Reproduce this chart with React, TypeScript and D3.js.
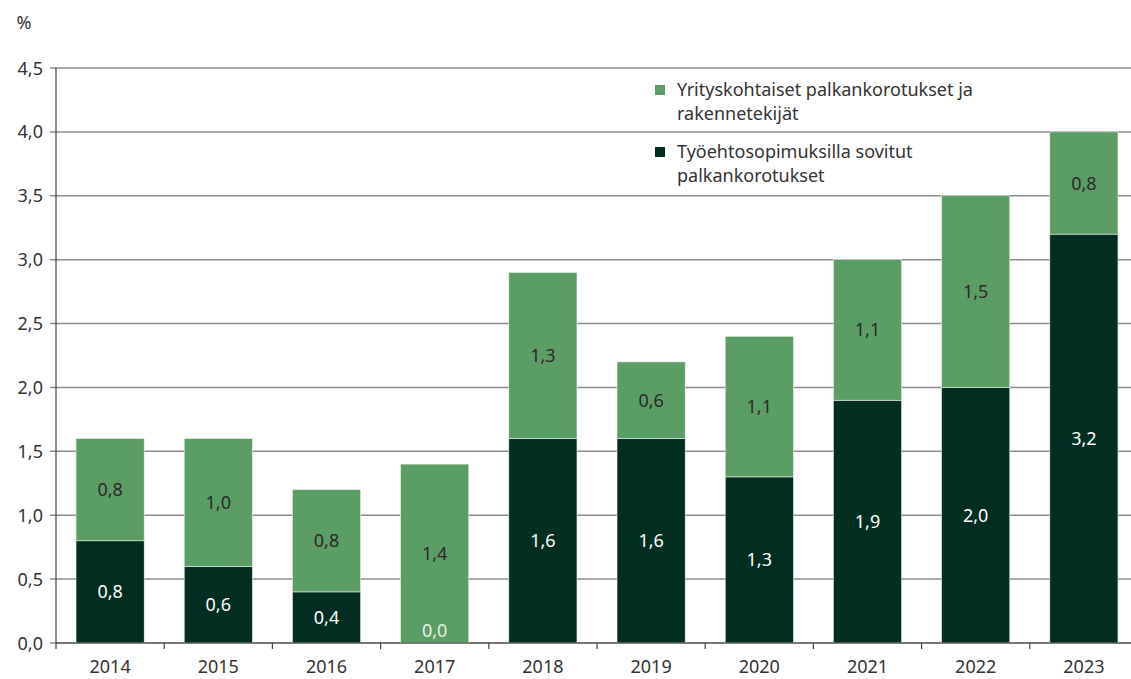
import React from "react";
import * as d3 from "d3";

const years = ["2014", "2015", "2016", "2017", "2018", "2019", "2020", "2021", "2022", "2023"];
const collective = [0.8, 0.6, 0.4, 0.0, 1.6, 1.6, 1.3, 1.9, 2.0, 3.2];
const company = [0.8, 1.0, 0.8, 1.4, 1.3, 0.6, 1.1, 1.1, 1.5, 0.8];
const yTicks = [0, 0.5, 1.0, 1.5, 2.0, 2.5, 3.0, 3.5, 4.0, 4.5];
const legendCompany = ["Yrityskohtaiset palkankorotukset ja", "rakennetekijät"];
const legendCollective = ["Työehtosopimuksilla sovitut", "palkankorotukset"];

const W = 1131;
const H = 679;
const left = 56;
const right = 1138;
const top = 68;
const bottom = 643;
const LIGHT = "#5a9e63";
const DARK = "#012e20";
const FONT = "'Noto Sans', 'Open Sans', sans-serif";
const FS = 18;
const fmt = (v: number) => v.toFixed(1).replace(".", ",");

export default function App() {
  const x = d3.scaleBand<string>().domain(years).range([left, right]).paddingInner(0.37).paddingOuter(0.185);
  const xb = d3.scaleBand<string>().domain(years).range([left, right]);
  const y = d3.scaleLinear().domain([0, 4.5]).range([bottom, top]);

  return (
    <svg width={W} height={H} style={{ position: "absolute", left: 0, top: 0, fontFamily: FONT }}>
      <rect width={W} height={H} fill="#fff" />
      <text x={24} y={29} fontSize={FS} fill="#333" textAnchor="middle">%</text>
      {yTicks.map((t) => (
        <g key={t}>
          <line x1={50} x2={W} y1={y(t)} y2={y(t)} stroke="#8c8c8c" strokeWidth={1.5} />
          <text x={43} y={y(t) + 6.5} fontSize={FS} fill="#333" textAnchor="end">{fmt(t)}</text>
        </g>
      ))}
      {years.map((yr, i) => {
        const bx = x(yr)!;
        const bw = x.bandwidth();
        const c0 = collective[i];
        const c1 = company[i];
        const y0 = c0 === 0 ? y(0) - 13 + 6.5 : (y(0) + y(c0)) / 2 + 6.5;
        return (
          <g key={yr}>
            <rect x={bx} y={y(c0)} width={bw} height={y(0) - y(c0)} fill={DARK} stroke="#e8f0e8" strokeWidth={0.6} />
            <rect x={bx} y={y(c0 + c1)} width={bw} height={y(c0) - y(c0 + c1)} fill={LIGHT} stroke="#e8f0e8" strokeWidth={0.6} />
            <text x={bx + bw / 2} y={y0} fontSize={FS} fill={c0 === 0 ? "#e6f0e6" : "#fff"} textAnchor="middle">
              {fmt(c0)}
            </text>
            <text x={bx + bw / 2} y={(y(c0) + y(c0 + c1)) / 2 + 6.5} fontSize={FS} fill="#2a2a2a" textAnchor="middle">
              {fmt(c1)}
            </text>
            <text x={xb(yr)! + xb.bandwidth() / 2} y={673} fontSize={FS} fill="#333" textAnchor="middle">{yr}</text>
          </g>
        );
      })}
      <line x1={left} x2={left} y1={top} y2={bottom} stroke="#444" strokeWidth={1.2} />
      <line x1={left} x2={W} y1={bottom} y2={bottom} stroke="#444" strokeWidth={1.2} />
      {years.map((yr) => (
        <line key={"t" + yr} x1={xb(yr)!} x2={xb(yr)!} y1={bottom} y2={bottom + 6} stroke="#444" strokeWidth={1.2} />
      ))}
      <rect x={655} y={85} width={10} height={10} fill={LIGHT} />
      {legendCompany.map((l, i) => (
        <text key={l} x={677} y={96 + i * 24} fontSize={FS} fill="#333">{l}</text>
      ))}
      <rect x={655} y={147} width={10} height={10} fill={DARK} />
      {legendCollective.map((l, i) => (
        <text key={l} x={677} y={158 + i * 24} fontSize={FS} fill="#333">{l}</text>
      ))}
    </svg>
  );
}
